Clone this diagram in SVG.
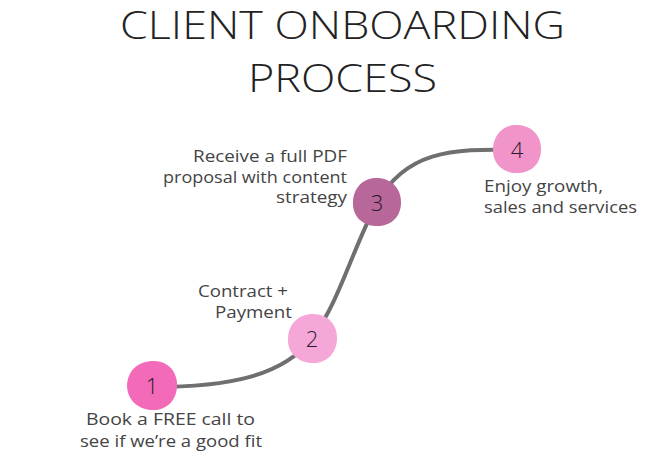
<svg xmlns="http://www.w3.org/2000/svg" width="670" height="458" viewBox="0 0 670 458">
<style>
.title{font-family:"Open Sans","Liberation Sans",sans-serif;font-weight:300;font-size:38px;fill:#222}
.lbl{font-family:"Open Sans","Liberation Sans",sans-serif;font-size:16px;fill:#444}
.num{font-family:"Open Sans","Liberation Sans",sans-serif;font-weight:300;font-size:22px;fill:#2a1a2a;text-anchor:middle}
.conn{fill:none;stroke:#6f6f6f;stroke-width:4;stroke-linecap:round}
</style>
<rect width="670" height="458" fill="#ffffff"/>
<g id="title">
<text class="title" x="120" y="39" textLength="445" lengthAdjust="spacingAndGlyphs">CLIENT ONBOARDING</text>
<text class="title" x="248" y="92" textLength="189" lengthAdjust="spacingAndGlyphs">PROCESS</text>
</g>
<g id="connectors">
<path class="conn" d="M152 387 C230 387 282 376 312 339 C340 300 352 250 377 203 C405 152 450 148 517 150"/>
</g>
<g id="node1">
<path d="M152 361 C168 360 178 372 177 387 C176 402 165 411 151 410 C137 409 127 399 127 385 C128 370 138 362 152 361 Z" fill="#f26ab8"/>
<text class="num" x="152" y="394">1</text>
<text class="lbl" x="86" y="425" textLength="169" lengthAdjust="spacingAndGlyphs">Book a FREE call to</text>
<text class="lbl" x="80" y="447" textLength="182" lengthAdjust="spacingAndGlyphs">see if we’re a good fit</text>
</g>
<g id="node2">
<path d="M313 314 C328 314 338 325 337 340 C336 355 325 364 311 363 C297 362 287 352 288 338 C289 323 299 314 313 314 Z" fill="#f5a8d8"/>
<text class="num" x="312" y="347">2</text>
<text class="lbl" x="198" y="297" textLength="90" lengthAdjust="spacingAndGlyphs">Contract +</text>
<text class="lbl" x="215" y="318" textLength="77" lengthAdjust="spacingAndGlyphs">Payment</text>
</g>
<g id="node3">
<path d="M378 178 C393 179 402 190 401 204 C400 219 389 227 375 226 C361 225 352 215 353 201 C354 187 364 177 378 178 Z" fill="#b8679b"/>
<text class="num" x="377" y="211">3</text>
<text class="lbl" x="193" y="162" textLength="154" lengthAdjust="spacingAndGlyphs">Receive a full PDF</text>
<text class="lbl" x="163" y="183" textLength="184" lengthAdjust="spacingAndGlyphs">proposal with content</text>
<text class="lbl" x="276" y="203" textLength="71" lengthAdjust="spacingAndGlyphs">strategy</text>
</g>
<g id="node4">
<path d="M518 125 C533 126 542 137 541 151 C540 166 529 174 515 173 C501 172 492 162 493 148 C494 134 504 124 518 125 Z" fill="#f094c9"/>
<text class="num" x="517" y="158">4</text>
<text class="lbl" x="484" y="192" textLength="119" lengthAdjust="spacingAndGlyphs">Enjoy growth,</text>
<text class="lbl" x="484" y="213" textLength="153" lengthAdjust="spacingAndGlyphs">sales and services</text>
</g>
</svg>
